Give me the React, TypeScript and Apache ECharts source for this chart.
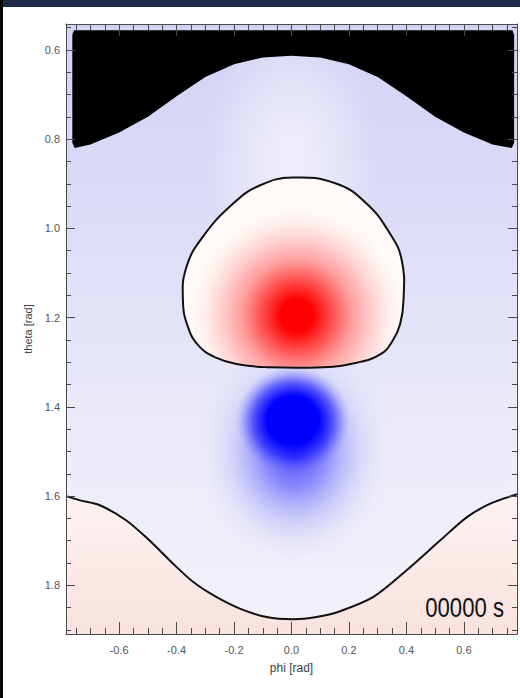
import React, { useEffect, useRef } from "react";
import * as echarts from "echarts";

// ---- axis ranges and ticks ----
const phiRange = [-0.785, 0.785];
const thetaRange = [0.542, 1.909];
const xMajorTicks = [-0.6, -0.4, -0.2, 0.0, 0.2, 0.4, 0.6];
const xMinorTicks = [-0.75, -0.7, -0.65, -0.55, -0.5, -0.45, -0.35, -0.3, -0.25, -0.15, -0.1, -0.05, 0.05, 0.1, 0.15, 0.25, 0.3, 0.35, 0.45, 0.5, 0.55, 0.65, 0.7, 0.75];
const yMajorTicks = [0.6, 0.8, 1.0, 1.2, 1.4, 1.6, 1.8];
const yMinorTicks = [0.55, 0.65, 0.7, 0.75, 0.85, 0.9, 0.95, 1.05, 1.1, 1.15, 1.25, 1.3, 1.35, 1.45, 1.5, 1.55, 1.65, 1.7, 1.75, 1.85, 1.9];

// ---- black masked region (outline, phi / theta) ----
const maskPhi = [-0.763, -0.757, 0.769, 0.775, 0.775, 0.767, 0.7, 0.6, 0.5, 0.4, 0.3, 0.2, 0.1, 0.0, -0.1, -0.2, -0.3, -0.4, -0.5, -0.6, -0.7, -0.755, -0.763];
const maskTheta = [0.566, 0.556, 0.556, 0.566, 0.808, 0.82, 0.812, 0.785, 0.75, 0.704, 0.661, 0.632, 0.617, 0.613, 0.617, 0.632, 0.661, 0.704, 0.75, 0.785, 0.812, 0.82, 0.808];

// ---- zero contour around the positive lobe ----
const domePhi = [0.005, 0.157, 0.262, 0.343, 0.384, 0.39, 0.378, 0.352, 0.31, 0.227, 0.11, -0.087, -0.192, -0.265, -0.322, -0.36, -0.378, -0.366, -0.309, -0.204, -0.111];
const domeTheta = [0.886, 0.9, 0.945, 1.012, 1.072, 1.161, 1.215, 1.252, 1.282, 1.301, 1.311, 1.311, 1.304, 1.289, 1.264, 1.222, 1.161, 1.087, 1.019, 0.945, 0.904];

// ---- lower zero contour ----
const lowerPhi = [-0.785, -0.739, -0.669, -0.576, -0.495, -0.413, -0.343, -0.262, -0.18, -0.087, 0.006, 0.087, 0.169, 0.285, 0.401, 0.518, 0.611, 0.692, 0.785];
const lowerTheta = [1.6, 1.609, 1.62, 1.654, 1.699, 1.751, 1.792, 1.826, 1.852, 1.871, 1.876, 1.871, 1.858, 1.826, 1.766, 1.699, 1.647, 1.617, 1.596];

// ---- positive (red) peak: centre and extent ----
const redPeak = [0.018, 1.195];
const redExtent = 0.37;

// ---- field lobes: glow above dome, negative halo, negative core ----
const lobePhi = [0.0, 0.01, 0.005];
const lobeTheta = [0.83, 1.5, 1.43];
const lobeRPhi = [0.3, 0.34, 0.2];
const lobeRTheta = [0.28, 0.26, 0.12];

const timeLabel = "00000 s";

const lobeStops = [
  [
    { offset: 0, color: "rgba(255,255,255,0.6)" },
    { offset: 0.5, color: "rgba(255,255,255,0.35)" },
    { offset: 1, color: "rgba(255,255,255,0)" },
  ],
  [
    { offset: 0, color: "rgba(40,40,255,0.85)" },
    { offset: 0.3, color: "rgba(80,80,255,0.65)" },
    { offset: 0.55, color: "rgba(130,130,252,0.38)" },
    { offset: 0.78, color: "rgba(175,175,250,0.15)" },
    { offset: 1, color: "rgba(210,210,250,0)" },
  ],
  [
    { offset: 0, color: "rgba(0,0,255,1)" },
    { offset: 0.45, color: "rgba(0,0,255,1)" },
    { offset: 0.7, color: "rgba(20,20,255,0.6)" },
    { offset: 0.9, color: "rgba(60,60,255,0.15)" },
    { offset: 1, color: "rgba(90,90,255,0)" },
  ],
];

const redStops = [
  { offset: 0, color: "#ff0000" },
  { offset: 0.15, color: "#ff0000" },
  { offset: 0.32, color: "#ff4a4a" },
  { offset: 0.52, color: "#ff9e9e" },
  { offset: 0.72, color: "#ffd2d0" },
  { offset: 0.88, color: "#fff0ee" },
  { offset: 1, color: "#fffaf8" },
];

const AX = "#4a4a4a";
const LABEL_FONT = "'Liberation Sans', Arial, sans-serif";

function xAxisDef(position: string, ticks: number[], len: number, line: boolean, labels: boolean, name?: string) {
  return {
    type: "value",
    gridIndex: 0,
    position,
    min: phiRange[0],
    max: phiRange[1],
    z: 20,
    axisLine: { show: line, onZero: false, lineStyle: { color: AX, width: 1 } },
    axisTick: { show: true, inside: true, length: len, customValues: ticks, lineStyle: { color: AX, width: 1 } },
    axisLabel: labels
      ? { show: true, customValues: ticks, formatter: (v: number) => v.toFixed(1), color: "#555", fontSize: 11, fontFamily: LABEL_FONT, margin: 10 }
      : { show: false },
    splitLine: { show: false },
    name: name || "",
    nameLocation: "middle",
    nameGap: 28,
    nameTextStyle: { color: "#444", fontSize: 12, fontFamily: LABEL_FONT },
  };
}

function yAxisDef(position: string, ticks: number[], len: number, line: boolean, labels: boolean, name?: string) {
  return {
    type: "value",
    gridIndex: 0,
    position,
    inverse: true,
    min: thetaRange[0],
    max: thetaRange[1],
    z: 20,
    axisLine: { show: line, onZero: false, lineStyle: { color: AX, width: 1 } },
    axisTick: { show: true, inside: true, length: len, customValues: ticks, lineStyle: { color: AX, width: 1 } },
    axisLabel: labels
      ? { show: true, customValues: ticks, formatter: (v: number) => v.toFixed(1), color: "#555", fontSize: 11, fontFamily: LABEL_FONT, margin: 6 }
      : { show: false },
    splitLine: { show: false },
    name: name || "",
    nameLocation: "middle",
    nameGap: 24,
    nameTextStyle: { color: "#444", fontSize: 11, fontFamily: LABEL_FONT },
  };
}

export default function App() {
  const ref = useRef<HTMLDivElement>(null);
  useEffect(() => {
    if (!ref.current) return;
    const chart = echarts.init(ref.current, null, { renderer: "svg" });
    const single = [[0, 1.2]];
    const option: any = {
      animation: false,
      backgroundColor: "#ffffff",
      grid: { left: 66, top: 24, width: 451, height: 610 },
      xAxis: [
        xAxisDef("bottom", xMajorTicks, 12, true, true, "phi [rad]"),
        xAxisDef("bottom", xMinorTicks, 6, false, false),
        xAxisDef("top", xMajorTicks, 12, true, false),
        xAxisDef("top", xMinorTicks, 6, false, false),
      ],
      yAxis: [
        yAxisDef("left", yMajorTicks, 9, true, true, "theta [rad]"),
        yAxisDef("left", yMinorTicks, 5, false, false),
        yAxisDef("right", yMajorTicks, 9, true, false),
        yAxisDef("right", yMinorTicks, 5, false, false),
      ],
      graphic: [
        { type: "rect", shape: { x: 0, y: 0, width: 520, height: 7 }, style: { fill: "#1d2a48" }, z: 100 },
        { type: "rect", shape: { x: 0, y: 0, width: 3, height: 698 }, style: { fill: "#080808" }, z: 100 },
        {
          type: "text",
          z: 100,
          x: 504,
          y: 608,
          scaleX: 0.82,
          style: {
            text: timeLabel,
            textAlign: "right",
            textVerticalAlign: "middle",
            align: "right",
            verticalAlign: "middle",
            fontSize: 27,
            fontFamily: "'Liberation Sans', Arial, sans-serif",
            fill: "#111",
          },
        },
      ],
      series: [
        {
          type: "custom",
          name: "background",
          silent: true,
          z: 1,
          data: single,
          renderItem: (params: any) => {
            const cs = params.coordSys;
            return {
              type: "rect",
              shape: { x: cs.x, y: cs.y, width: cs.width, height: cs.height },
              style: {
                fill: new echarts.graphic.LinearGradient(0, 0, 0, 1, [
                  { offset: 0, color: "#d3d3f6" },
                  { offset: 0.2, color: "#d8d8f7" },
                  { offset: 0.45, color: "#e2e2f9" },
                  { offset: 0.7, color: "#ececfa" },
                  { offset: 1, color: "#f3f1f9" },
                ]),
              },
            };
          },
        },
        {
          type: "custom",
          name: "positive-lower",
          silent: true,
          z: 2,
          data: single,
          renderItem: (params: any, api: any) => {
            const pts = lowerPhi.map((p, i) => api.coord([p, lowerTheta[i]]));
            pts.push(api.coord([phiRange[1], thetaRange[1]]));
            pts.push(api.coord([phiRange[0], thetaRange[1]]));
            return {
              type: "polygon",
              shape: { points: pts },
              style: {
                fill: new echarts.graphic.LinearGradient(0, 0, 0, 1, [
                  { offset: 0, color: "#fdf3f2" },
                  { offset: 0.5, color: "#fbeae8" },
                  { offset: 1, color: "#f9e2df" },
                ]),
              },
            };
          },
        },
        {
          type: "custom",
          name: "lobes",
          silent: true,
          z: 3,
          data: lobePhi.map((p, i) => [p, lobeTheta[i]]),
          renderItem: (params: any, api: any) => {
            const i = params.dataIndex;
            const c = api.coord([lobePhi[i], lobeTheta[i]]);
            const s = api.size([lobeRPhi[i], lobeRTheta[i]], [lobePhi[i], lobeTheta[i]]);
            return {
              type: "circle",
              x: c[0],
              y: c[1],
              scaleY: s[1] / s[0],
              shape: { cx: 0, cy: 0, r: s[0] },
              style: { fill: new echarts.graphic.RadialGradient(0.5, 0.5, 0.5, lobeStops[i]) },
            };
          },
        },
        {
          type: "custom",
          name: "positive-lobe",
          silent: true,
          z: 5,
          data: single,
          renderItem: (params: any, api: any) => {
            const c = api.coord(redPeak);
            const r = api.size([redExtent, 0], redPeak)[0];
            return {
              type: "polygon",
              shape: { points: domePhi.map((p, i) => api.coord([p, domeTheta[i]])), smooth: 0.45 },
              style: {
                fill: new echarts.graphic.RadialGradient(c[0], c[1], r, redStops, true),
                stroke: "#111",
                lineWidth: 2,
              },
            };
          },
        },
        {
          type: "custom",
          name: "mask",
          silent: true,
          z: 8,
          data: single,
          renderItem: (params: any, api: any) => ({
            type: "polygon",
            shape: { points: maskPhi.map((p, i) => api.coord([p, maskTheta[i]])) },
            style: { fill: "#000000" },
          }),
        },
        {
          type: "line",
          name: "lower-contour",
          silent: true,
          z: 9,
          data: lowerPhi.map((p, i) => [p, lowerTheta[i]]),
          smooth: 0.3,
          showSymbol: false,
          symbol: "none",
          lineStyle: { color: "#111", width: 2 },
        },
      ],
    };
    chart.setOption(option);
    return () => chart.dispose();
  }, []);
  return (
    <div
      ref={ref}
      style={{ position: "absolute", left: 0, top: 0, width: 520, height: 698, background: "#fff" }}
    />
  );
}
